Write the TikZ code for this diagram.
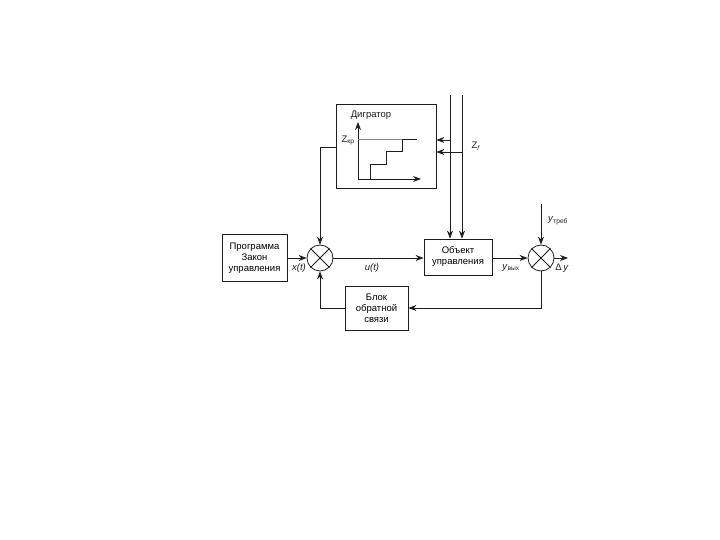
\documentclass[tikz,border=0pt]{standalone}
\usepackage{fontspec}
\setmainfont{Liberation Sans}
\usetikzlibrary{arrows.meta,positioning,calc}
\definecolor{schemeink}{HTML}{1E1E1E}
\definecolor{schemegray}{HTML}{8A8A8A}

\begin{document}
\begin{tikzpicture}[x=1pt,y=-1pt,font=\fontsize{9.5}{11}\selectfont,
  box/.style={draw=schemeink,line width=0.8pt,align=center,inner sep=2pt},
  sum/.style={draw=schemeink,line width=0.8pt,circle,minimum size=26pt,inner sep=0pt},
  ar/.style={-{Stealth[length=8pt,width=6pt]},schemeink,line width=0.8pt},
  ln/.style={schemeink,line width=0.8pt},
  lbl/.style={inner sep=1pt,text=schemeink}]
  \useasboundingbox (0,0) rectangle (720,540);
  % blocks
  \node[box,minimum width=65pt,minimum height=47pt] (prog) at (254.5,258) {Программа\\Закон\\управления};
  \node[sum] (s1) at (320,258) {};
  \node[box,minimum width=68pt,minimum height=36pt] (obj) at (458,257) {Объект\\управления};
  \node[sum] (s2) at (541,258) {};
  \node[box,minimum width=63pt,minimum height=44pt] (fb) at (376.5,308) {Блок\\обратной\\связи};
  \node[box,minimum width=100pt,minimum height=84pt] (dig) at (386,146) {};
  \node[lbl] (digt) at (371,115) {Дигратор};
  \draw[ln] (s1.north east)--(s1.south west) (s1.north west)--(s1.south east);
  \draw[ln] (s2.north east)--(s2.south west) (s2.north west)--(s2.south east);
  % staircase inside the digrator
  \coordinate (org) at (358,179);
  \draw[ar] (org) -- ++(0,-57);
  \draw[ar] (org) -- ++(63,0);
  \draw[schemegray,line width=0.7pt] (358,139) -- (402,139);
  \draw[ln] (370,179) |- (386,164) |- (402,151) |- (417,139);
  \node[lbl] (zkr) at (348,140) {Z\textsubscript{кр}};
  % disturbances
  \coordinate (za) at (450,95);
  \coordinate (zb) at (462,95);
  \coordinate (zatap) at (450,140);
  \coordinate (zbtap) at (462,152);
  \draw[ar] (za) -- (za |- obj.north);
  \draw[ar] (zb) -- (zb |- obj.north);
  \draw[ar] (zatap) -- (zatap -| dig.east);
  \draw[ar] (zbtap) -- (zbtap -| dig.east);
  \node[lbl] (zf) at (476,146) {Z\textsubscript{\textit{f}}};
  % main loop
  \draw[ar] (prog.east |- s1) -- (s1);
  \draw[ar] (s1) -- (s1 -| obj.west);
  \draw[ar] (obj.east |- s2) -- (s2);
  \draw[ar] (dig.west |- 0,147) -| (s1.north);
  \coordinate (yreq) at (541,204);
  \coordinate (dyend) at (568,258);
  \draw[ar] (yreq) -- (s2.north);
  \draw[ar] (s2.east) -- (dyend);
  \draw[ar] (s2.south) |- (fb.east);
  \draw[ar] (fb.west) -| (s1.south);
  % signal labels
  \node[lbl] at (299,268) {\textit{x(t)}};
  \node[lbl] at (372,268) {\textit{u(t)}};
  \node[lbl] at (511,268) {\textit{y}\textsubscript{вых}};
  \node[lbl] at (562,268) {Δ\,\textit{y}};
  \node[lbl] at (558,221) {\textit{y}\textsubscript{треб}};
\end{tikzpicture}
\end{document}
